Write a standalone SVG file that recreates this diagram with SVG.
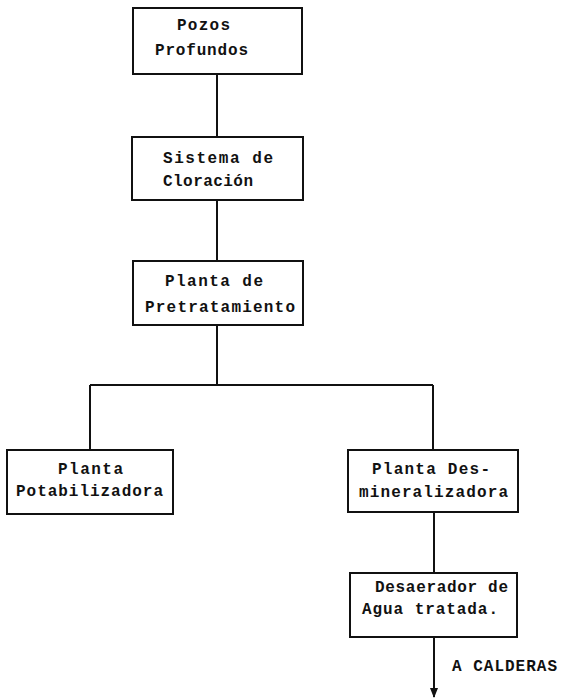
<svg xmlns="http://www.w3.org/2000/svg" width="565" height="699" viewBox="0 0 565 699">
<style>
.box{fill:#fff;stroke:#111;stroke-width:2}
.ln{fill:none;stroke:#111;stroke-width:2}
text{font-family:"Liberation Mono","DejaVu Sans Mono",monospace;font-size:16px;font-weight:bold;fill:#111}
</style>
<defs>
<marker id="ah" viewBox="0 0 10 10" refX="9" refY="5" markerWidth="5" markerHeight="5" orient="auto" markerUnits="strokeWidth">
<path d="M0,1 L10,5 L0,9 z" fill="#111"/>
</marker>
</defs>
<rect width="565" height="699" fill="#fff"/>
<g id="connectors">
<line class="ln" x1="217" y1="74" x2="217" y2="137"/>
<line class="ln" x1="217" y1="200" x2="217" y2="261"/>
<line class="ln" x1="217" y1="325" x2="217" y2="385"/>
<line class="ln" x1="90" y1="385" x2="433" y2="385"/>
<line class="ln" x1="90" y1="385" x2="90" y2="450"/>
<line class="ln" x1="433" y1="385" x2="433" y2="450"/>
<line class="ln" x1="434" y1="512" x2="434" y2="573"/>
<line class="ln" x1="434" y1="637" x2="434" y2="697" marker-end="url(#ah)"/>
<text x="452" y="671" textLength="105" lengthAdjust="spacing">A CALDERAS</text>
</g>
<g id="pozos">
<rect class="box" x="133" y="8" width="169" height="66"/>
<text x="177" y="30" textLength="53" lengthAdjust="spacing">Pozos</text>
<text x="155" y="55" textLength="93" lengthAdjust="spacing">Profundos</text>
</g>
<g id="cloracion">
<rect class="box" x="132" y="137" width="171" height="63"/>
<text x="163" y="163" textLength="110" lengthAdjust="spacing">Sistema de</text>
<text x="163" y="186" textLength="90" lengthAdjust="spacing">Cloración</text>
</g>
<g id="pretratamiento">
<rect class="box" x="133" y="261" width="170" height="64"/>
<text x="165" y="286" textLength="98" lengthAdjust="spacing">Planta de</text>
<text x="145" y="312" textLength="150" lengthAdjust="spacing">Pretratamiento</text>
</g>
<g id="potabilizadora">
<rect class="box" x="7" y="450" width="166" height="64"/>
<text x="58" y="474" textLength="65" lengthAdjust="spacing">Planta</text>
<text x="16" y="496" textLength="147" lengthAdjust="spacing">Potabilizadora</text>
</g>
<g id="desmineralizadora">
<rect class="box" x="348" y="450" width="170" height="62"/>
<text x="372" y="474" textLength="118" lengthAdjust="spacing">Planta Des-</text>
<text x="359" y="497" textLength="149" lengthAdjust="spacing">mineralizadora</text>
</g>
<g id="desaerador">
<rect class="box" x="350" y="573" width="167" height="64"/>
<text x="375" y="592" textLength="133" lengthAdjust="spacing">Desaerador de</text>
<text x="362" y="614" textLength="136" lengthAdjust="spacing">Agua tratada.</text>
</g>
</svg>
